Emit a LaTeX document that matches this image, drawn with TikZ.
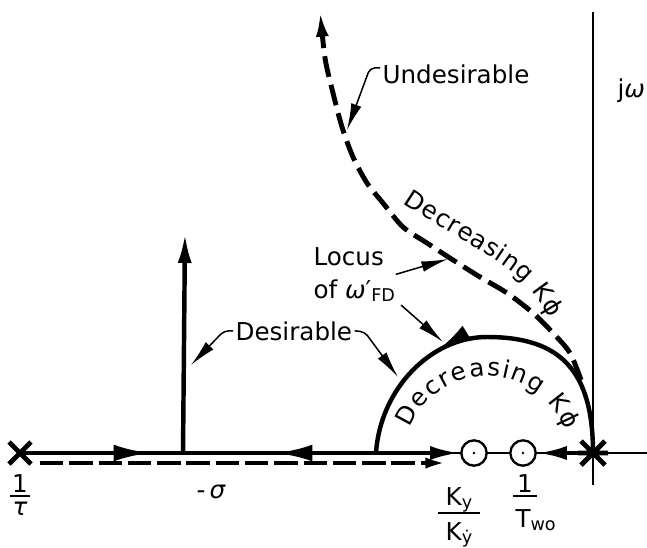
\documentclass[tikz,border=0pt]{standalone}
\usepackage{fontspec}
\setmainfont{DejaVu Sans}
\usetikzlibrary{arrows.meta,decorations.markings,decorations.text}
\newcommand{\lblfont}{\fontsize{21}{24}\selectfont}
\newcommand{\lsub}[1]{\raisebox{-3pt}{\fontsize{15}{15}\selectfont #1}}
\tikzset{
  locus/.style={line width=3.8pt},
  dlocus/.style={line width=4.2pt, dash pattern=on 18pt off 7pt},
  tipbig/.style={-{Latex[length=9mm,width=4.2mm]}},
  arrowat/.style={postaction={decorate,decoration={markings,
      mark=at position #1 with {\arrow{Latex[length=11mm,width=5mm]}}}}},
  leader/.style={line width=1.3pt, -{Latex[length=8mm,width=3.2mm]}},
  lbl/.style={font=\lblfont, inner sep=2pt},
  zero/.style={circle, draw, fill=white, line width=2pt,
      minimum size=0.76cm, inner sep=0pt},
  fracbar/.style={line width=1.3pt},
  thinaxis/.style={line width=0.9pt},
}
\begin{document}
\begin{tikzpicture}[x=0.03cm,y=0.03cm]
    \useasboundingbox (0,0) rectangle (647,-547);
    \def\ax{-453}

    % poles, break-in point and foot of the arc
    \coordinate (p1) at (20,\ax);
    \coordinate (p2) at (593,\ax);
    \coordinate (brk) at (183,\ax);
    \coordinate (foot) at (376,\ax);
    \coordinate (vtop) at (185,-233);

    % axes
    \draw[thinaxis] (p1) -- (647,\ax);
    \draw[thinaxis] (593,-12) -- (593,-485);
    \node[lbl, anchor=base west] (jw) at (615,-97) {j\textit{ω}};

    % zeros
    \node[zero] (z1) at (474,\ax) {};
    \node[zero] (z2) at (523,\ax) {};
    \fill (z1) circle (1.3);
    \fill (z2) circle (1.3);

    % solid locus
    \draw[locus, arrowat=0.8] (p1) -- (brk);
    \draw[locus, arrowat=0.52] (foot) -- (brk);
    \draw[locus, tipbig] (brk) -- (vtop);
    \draw[locus, tipbig] (foot) -- (z1);
    \draw[locus, tipbig] (p2) -- (z2);
    \draw[locus, arrowat=0.66] (p2) .. controls (593,-370) and (560,-337) .. (487,-337)
        .. controls (430,-337) and (380,-390) .. (foot);

    % dashed locus
    \draw[dlocus, -{Latex[length=8mm,width=3.8mm]}] plot[smooth] coordinates
        {(581,-380) (570,-353) (553,-333) (533,-313) (507,-293) (480,-277)
         (453,-260) (427,-243) (403,-227) (383,-203) (367,-183) (353,-157)
         (342,-127) (333,-93) (325,-58) (320,-10)};
    \coordinate (dA) at (40,-463);
    \coordinate (dB) at (452,-463);
    \draw[line width=4.2pt, dash pattern=on 20pt off 5pt,
        -{Latex[length=8mm,width=3.2mm]}] (dA) -- (dB);

    % pole marks
    \draw[line width=4.2pt] (p1) +(-11,-11) -- +(11,11) (p1) +(-11,11) -- +(11,-11);
    \draw[line width=4.2pt] (p2) +(-12,-12) -- +(12,12) (p2) +(-12,12) -- +(12,-12)
        (p2) +(-15,0) -- +(15,0);

    % labels with leaders
    \node[lbl, anchor=base west] (undes) at (380,-83) {Undesirable};
    \coordinate (undTip) at (347,-130);
    \draw[leader, rounded corners=4pt] ([yshift=5pt]undes.west) -- ++(-10,0) -- (undTip);

    \node[lbl, anchor=base west] (des) at (233,-340) {Desirable};
    \coordinate (desTipA) at (191,-365);
    \coordinate (desTipB) at (398,-377);
    \draw[leader, rounded corners=4pt] (des.west) -- ++(-9,0) -- (desTipA);
    \draw[leader, rounded corners=4pt] (des.east) -- ++(10,-1) -- (desTipB);

    \node[lbl, anchor=base west] (locA) at (311,-265) {Locus};
    \node[lbl, anchor=base west] (locB) at (311,-298) {of \textit{ω}′\lsub{FD}};
    \coordinate (locTipA) at (448,-259);
    \coordinate (locTipB) at (443,-342);
    \draw[leader] ([xshift=8pt,yshift=-8pt]locA.base east) -- (locTipA);
    \draw[leader] ([xshift=3pt,yshift=-6pt]locB.base east) -- (locTipB);

    % decreasing gain along both branches
    \path[decorate, decoration={text along path, text={|\lblfont|Decreasing Kϕ},
        text align=fit to path}]
        (403,-203) .. controls (440,-228) and (480,-248) .. (510,-270)
        .. controls (528,-283) and (540,-300) .. (550,-318);
    \path[decorate, decoration={text along path, text={|\lblfont|Decreasing Kϕ},
        text align=fit to path}]
        (410,-428) arc[start angle=158, end angle=20, radius=83];

    % axis values
    \node[lbl, anchor=base] (tauN) at (20,-492) {1};
    \node[lbl, anchor=base] (tauD) at (20,-515) {\textit{τ}};
    \draw[fracbar] (10,-496) -- (30,-496);
    \node[lbl, anchor=base west] (sig) at (194,-498) {-\,\textit{σ}};
    \node[lbl, anchor=base] (kyN) at (459,-505) {K\lsub{y}};
    \node[lbl, anchor=base] (kyD) at (459,-540) {K\lsub{ẏ}};
    \draw[fracbar] (438,-513) -- (480,-513);
    \node[lbl, anchor=base] (twN) at (525,-492) {1};
    \node[lbl, anchor=base west] (twD) at (513,-527) {T\lsub{wo}};
    \draw[fracbar] (513,-496) -- (537,-496);
\end{tikzpicture}
\end{document}
